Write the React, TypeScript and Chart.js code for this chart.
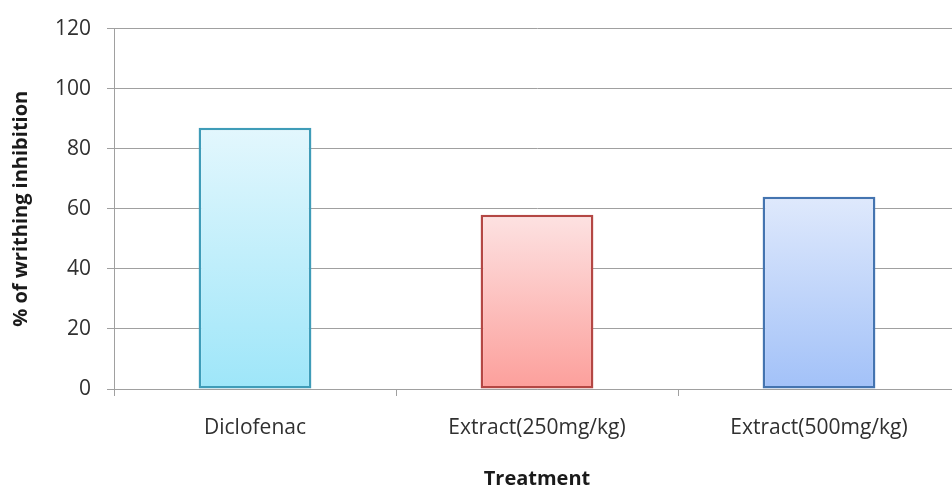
import React, { useEffect, useRef } from "react";
import { Chart, registerables } from "chart.js";

Chart.register(...registerables);

const categories = ["Diclofenac", "Extract(250mg/kg)", "Extract(500mg/kg)"];
const inhibition = [87, 58, 64];
const yTicks = [0, 20, 40, 60, 80, 100, 120];

// per-bar gradient stops (top, bottom) and outline colours
const fillTop = ["#e3f7fd", "#fde2e2", "#dfe9fc"];
const fillBottom = ["#9ee6f9", "#fc9f9b", "#a2c1f8"];
const outline = ["#3f9cb8", "#b44744", "#4474b0"];

const FONT = "'Open Sans', 'Liberation Sans', sans-serif";
const GRID = "#a0a0a0";

export default function App() {
  const canvasRef = useRef<HTMLCanvasElement | null>(null);

  useEffect(() => {
    const canvas = canvasRef.current;
    if (!canvas) return;
    const chart = new Chart(canvas, {
      type: "bar",
      data: {
        labels: categories,
        datasets: [
          {
            label: "% of writhing inhibition",
            data: inhibition,
            barPercentage: 0.4,
            categoryPercentage: 1,
            borderWidth: 2.5,
            borderSkipped: false,
            borderColor: outline,
            backgroundColor: (ctx: any) => {
              const i = ctx.dataIndex ?? 0;
              const c = ctx.chart;
              const ys = c.scales?.y;
              if (!ys || ctx.parsed == null) return fillBottom[i];
              const top = ys.getPixelForValue(ctx.parsed.y);
              const base = ys.getPixelForValue(0);
              if (!isFinite(top) || !isFinite(base)) return fillBottom[i];
              const g = c.ctx.createLinearGradient(0, top, 0, base);
              g.addColorStop(0, fillTop[i]);
              g.addColorStop(1, fillBottom[i]);
              return g;
            },
          },
        ],
      },
      options: {
        animation: false,
        responsive: true,
        maintainAspectRatio: false,
        layout: { padding: { top: 27, right: 15, bottom: 0, left: 0 } },
        plugins: {
          legend: { display: false },
          tooltip: { enabled: false },
        },
        scales: {
          x: {
            afterFit: (s: any) => {
              s.height = 100;
            },
            grid: {
              display: true,
              drawOnChartArea: false,
              drawTicks: true,
              tickLength: 7,
              color: GRID,
              lineWidth: 1,
              offset: true,
            },
            border: { display: true, color: GRID, width: 1 },
            ticks: {
              padding: 19,
              color: "#303030",
              font: { family: FONT, size: 21 },
            },
            title: {
              display: true,
              text: "Treatment",
              color: "#1a1a1a",
              font: { family: FONT, size: 20, weight: "bold", lineHeight: 1.0 },
              padding: { top: 0, bottom: 0 },
            },
          },
          y: {
            min: 0,
            max: 120,
            afterFit: (s: any) => {
              s.width = 114;
            },
            afterBuildTicks: (s: any) => {
              s.ticks = yTicks.map((v) => ({ value: v }));
            },
            grid: {
              color: GRID,
              lineWidth: 1,
              tickLength: 7,
              drawTicks: true,
            },
            border: { display: true, color: GRID, width: 1 },
            ticks: {
              padding: 16,
              color: "#303030",
              font: { family: FONT, size: 21 },
            },
            title: {
              display: true,
              text: "% of writhing inhibition",
              color: "#1a1a1a",
              font: { family: FONT, size: 20, weight: "bold", lineHeight: 1.2 },
              padding: { top: 9, bottom: 0 },
            },
          },
        },
      },
    });
    return () => chart.destroy();
  }, []);

  return (
    <div
      style={{
        position: "fixed",
        left: 0,
        top: 0,
        width: "100vw",
        height: "100vh",
        overflow: "hidden",
        background: "#ffffff",
      }}
    >
      <div style={{ position: "relative", width: 975, height: 489 }}>
        <canvas ref={canvasRef} />
      </div>
    </div>
  );
}
